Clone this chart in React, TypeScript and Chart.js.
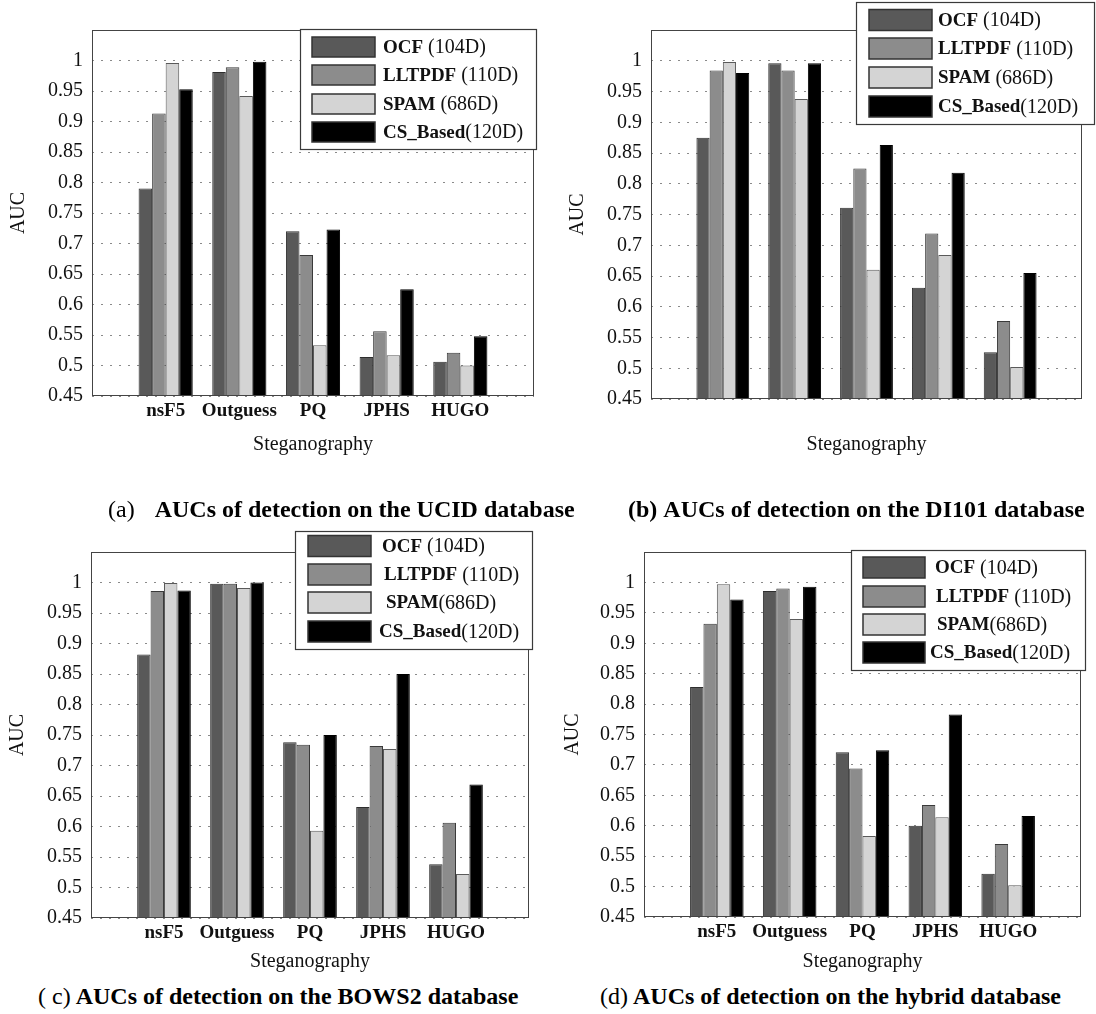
import { useEffect, useRef } from "react";
import { Chart, registerables } from "chart.js";

Chart.register(...registerables);

// ---------- data ----------
const categories = ["nsF5", "Outguess", "PQ", "JPHS", "HUGO"];
const seriesNames = ["OCF", "LLTPDF", "SPAM", "CS_Based"];
const seriesDims = ["(104D)", "(110D)", "(686D)", "(120D)"];
const yTickValues = [0.45, 0.5, 0.55, 0.6, 0.65, 0.7, 0.75, 0.8, 0.85, 0.9, 0.95, 1];
const yMin = 0.45;
const yMax = 1.05;

// (a) UCID
const ucidOCF = [0.79, 0.981, 0.72, 0.514, 0.506];
const ucidLLTPDF = [0.913, 0.989, 0.681, 0.556, 0.521];
const ucidSPAM = [0.996, 0.942, 0.533, 0.517, 0.5];
const ucidCS = [0.953, 0.998, 0.723, 0.625, 0.548];

// (b) DI101
const di101OCF = [0.875, 0.996, 0.761, 0.631, 0.526];
const di101LLTPDF = [0.984, 0.984, 0.825, 0.719, 0.577];
const di101SPAM = [0.998, 0.938, 0.66, 0.684, 0.502];
const di101CS = [0.98, 0.996, 0.863, 0.818, 0.655];

// (c) BOWS2
const bowsOCF = [0.882, 0.998, 0.738, 0.632, 0.538];
const bowsLLTPDF = [0.986, 0.998, 0.734, 0.732, 0.606];
const bowsSPAM = [0.999, 0.991, 0.593, 0.727, 0.522];
const bowsCS = [0.987, 1.0, 0.75, 0.85, 0.669];

// (d) hybrid
const hybridOCF = [0.828, 0.986, 0.721, 0.6, 0.521];
const hybridLLTPDF = [0.932, 0.99, 0.694, 0.634, 0.57];
const hybridSPAM = [0.997, 0.94, 0.583, 0.614, 0.502];
const hybridCS = [0.972, 0.993, 0.724, 0.783, 0.616];

// ---------- styles ----------
const SERIF = '"Liberation Serif", "Times New Roman", serif';
const seriesColors = ["#595959", "#8c8c8c", "#d4d4d4", "#000000"];
const seriesBorders = ["#2e2e2e", "#3a3a3a", "#5a5a5a", "#000000"];

type Panel = {
  key: string;
  series: number[][];
  showCategoryLabels: boolean;
  cv: { x: number; y: number; w: number; h: number };
  plot: { l: number; t: number; r: number; b: number };
  yTitlePad: number;
  xTitlePad: number;
  legend: {
    x: number; y: number; w: number; h: number;
    swX: number; swW: number; swH: number;
    rows: number[]; textX: number[]; gaps: boolean[];
  };
};

const panels: Panel[] = [
  {
    key: "a",
    series: [ucidOCF, ucidLLTPDF, ucidSPAM, ucidCS],
    showCategoryLabels: true,
    cv: { x: 0, y: 0, w: 548, h: 470 },
    plot: { l: 92, t: 30, r: 534, b: 396 },
    yTitlePad: 7,
    xTitlePad: 13,
    legend: {
      x: 300, y: 29, w: 236, h: 120, swX: 312, swW: 63, swH: 20,
      rows: [47, 75, 104, 132], textX: [383, 383, 383, 383],
      gaps: [true, true, true, false],
    },
  },
  {
    key: "b",
    series: [di101OCF, di101LLTPDF, di101SPAM, di101CS],
    showCategoryLabels: false,
    cv: { x: 548, y: 0, w: 548, h: 470 },
    plot: { l: 651, t: 30, r: 1082, b: 399 },
    yTitlePad: 18,
    xTitlePad: 13,
    legend: {
      x: 856, y: 2, w: 238, h: 122, swX: 869, swW: 63, swH: 21,
      rows: [20, 48.5, 77.5, 106.5], textX: [938, 938, 938, 938],
      gaps: [true, true, true, false],
    },
  },
  {
    key: "c",
    series: [bowsOCF, bowsLLTPDF, bowsSPAM, bowsCS],
    showCategoryLabels: true,
    cv: { x: 0, y: 522, w: 548, h: 458 },
    plot: { l: 91, t: 552, r: 529, b: 918 },
    yTitlePad: 6,
    xTitlePad: 6,
    legend: {
      x: 295, y: 531, w: 237, h: 118, swX: 308, swW: 63, swH: 21,
      rows: [546, 574.5, 602.5, 631.5], textX: [382, 384, 386, 379],
      gaps: [true, true, false, false],
    },
  },
  {
    key: "d",
    series: [hybridOCF, hybridLLTPDF, hybridSPAM, hybridCS],
    showCategoryLabels: true,
    cv: { x: 548, y: 522, w: 548, h: 458 },
    plot: { l: 644, t: 552, r: 1081, b: 917 },
    yTitlePad: 13,
    xTitlePad: 6,
    legend: {
      x: 851, y: 550, w: 234, h: 120, swX: 863, swW: 62, swH: 21,
      rows: [567.5, 596.5, 624.5, 652.5], textX: [935, 936, 937, 930],
      gaps: [true, true, false, false],
    },
  },
];

const captions = [
  { key: "a", x: 108, y: 495, tag: "(a)", tagBold: false, gap: 20, text: "AUCs of detection on the UCID database" },
  { key: "b", x: 628, y: 495, tag: "(b)", tagBold: true, gap: 6, text: "AUCs of detection on the DI101 database" },
  { key: "c", x: 38, y: 982, tag: "( c)", tagBold: false, gap: 5, text: "AUCs of detection on the BOWS2 database" },
  { key: "d", x: 600, y: 982, tag: "(d)", tagBold: false, gap: 5, text: "AUCs of detection on the hybrid database" },
];

function ChartPanel({ p }: { p: Panel }) {
  const ref = useRef<HTMLCanvasElement>(null);

  useEffect(() => {
    const canvas = ref.current;
    if (!canvas) return;
    const { cv, plot, legend } = p;
    const labels = ["", ...categories, ""];

    const datasets = p.series.map((vals, i) => ({
      label: seriesNames[i],
      data: [null, ...vals, null] as (number | null)[],
      backgroundColor: seriesColors[i],
      borderColor: seriesBorders[i],
      borderWidth: 1,
      borderSkipped: false as const,
      categoryPercentage: 0.735,
      barPercentage: 1,
    }));

    const framePlugin = {
      id: "frame",
      afterDatasetsDraw(chart: any) {
        const { ctx, chartArea: a } = chart;
        ctx.save();
        ctx.strokeStyle = "#444";
        ctx.lineWidth = 1;
        ctx.strokeRect(Math.round(a.left) + 0.5, Math.round(a.top) + 0.5,
          Math.round(a.right - a.left) - 1, Math.round(a.bottom - a.top) - 1);
        ctx.restore();
      },
    };

    const legendPlugin = {
      id: "boxLegend",
      afterDraw(chart: any) {
        const ctx = chart.ctx;
        ctx.save();
        const bx = legend.x - cv.x;
        const by = legend.y - cv.y;
        ctx.fillStyle = "#ffffff";
        ctx.fillRect(bx, by, legend.w, legend.h);
        ctx.strokeStyle = "#3a3a3a";
        ctx.lineWidth = 1.2;
        ctx.strokeRect(bx + 0.5, by + 0.5, legend.w, legend.h);
        chart.data.datasets.forEach((ds: any, i: number) => {
          const cy = legend.rows[i] - cv.y;
          const sx = legend.swX - cv.x;
          ctx.fillStyle = ds.backgroundColor;
          ctx.fillRect(sx, cy - legend.swH / 2, legend.swW, legend.swH);
          ctx.strokeStyle = "#333";
          ctx.lineWidth = 1.5;
          ctx.strokeRect(sx, cy - legend.swH / 2, legend.swW, legend.swH);
          const tx = legend.textX[i] - cv.x;
          ctx.textBaseline = "middle";
          ctx.textAlign = "left";
          ctx.fillStyle = "#111";
          ctx.font = `bold 19px ${SERIF}`;
          ctx.fillText(seriesNames[i], tx, cy + 1);
          const w = ctx.measureText(seriesNames[i]).width;
          ctx.font = `20px ${SERIF}`;
          ctx.fillText(seriesDims[i], tx + w + (legend.gaps[i] ? 5 : 0), cy + 1);
        });
        ctx.restore();
      },
    };

    const chart = new Chart(canvas, {
      type: "bar",
      data: { labels, datasets },
      options: {
        animation: false,
        responsive: false,
        devicePixelRatio: 1,
        events: [],
        layout: {
          padding: { left: 0, top: plot.t - cv.y, right: cv.x + cv.w - plot.r, bottom: 0 },
        },
        plugins: { legend: { display: false }, tooltip: { enabled: false } },
        scales: {
          x: {
            type: "category",
            offset: false,
            grid: { display: false, drawTicks: false },
            border: { display: false },
            ticks: {
              autoSkip: false,
              maxRotation: 0,
              padding: 4,
              color: "#111",
              font: { family: SERIF, size: 19, weight: "bold" },
              callback: (_v: any, i: number) => (p.showCategoryLabels ? labels[i] : ""),
            },
            title: {
              display: true,
              text: "Steganography",
              color: "#111",
              font: { family: SERIF, size: 20 },
              padding: { top: 0, bottom: p.xTitlePad },
            },
            afterFit: (s: any) => {
              s.height = cv.y + cv.h - plot.b;
            },
          },
          y: {
            type: "linear",
            min: yMin,
            max: yMax,
            grid: { color: "#8a8a8a", lineWidth: 1, drawTicks: false },
            border: { display: false, dash: [2, 7] },
            ticks: {
              stepSize: 0.05,
              padding: 9,
              color: "#111",
              font: { family: SERIF, size: 20 },
              callback: (v: any) => String(Number(Number(v).toFixed(2))),
            },
            afterBuildTicks: (s: any) => {
              s.ticks = yTickValues.map((v) => ({ value: v }));
            },
            title: {
              display: true,
              text: "AUC",
              color: "#111",
              font: { family: SERIF, size: 20 },
              padding: { top: p.yTitlePad, bottom: 0 },
            },
            afterFit: (s: any) => {
              s.width = plot.l - cv.x;
            },
          },
        },
      } as any,
      plugins: [framePlugin, legendPlugin],
    });
    return () => chart.destroy();
  }, [p]);

  return (
    <canvas
      ref={ref}
      width={p.cv.w}
      height={p.cv.h}
      style={{ position: "absolute", left: p.cv.x, top: p.cv.y, width: p.cv.w, height: p.cv.h }}
    />
  );
}

export default function App() {
  useEffect(() => {
    document.body.style.margin = "0";
    document.body.style.background = "#ffffff";
  }, []);
  return (
    <div style={{ position: "relative", width: 1096, height: 1014, background: "#fff", overflow: "hidden" }}>
      {panels.map((p) => (
        <ChartPanel key={p.key} p={p} />
      ))}
      {captions.map((c) => (
        <div
          key={c.key}
          style={{
            position: "absolute",
            left: c.x,
            top: c.y,
            whiteSpace: "nowrap",
            fontFamily: SERIF,
            fontSize: 24,
            lineHeight: "28px",
            color: "#000",
          }}
        >
          <span style={{ fontWeight: c.tagBold ? "bold" : "normal" }}>{c.tag}</span>
          <span style={{ fontWeight: "bold", marginLeft: c.gap }}>{c.text}</span>
        </div>
      ))}
    </div>
  );
}
